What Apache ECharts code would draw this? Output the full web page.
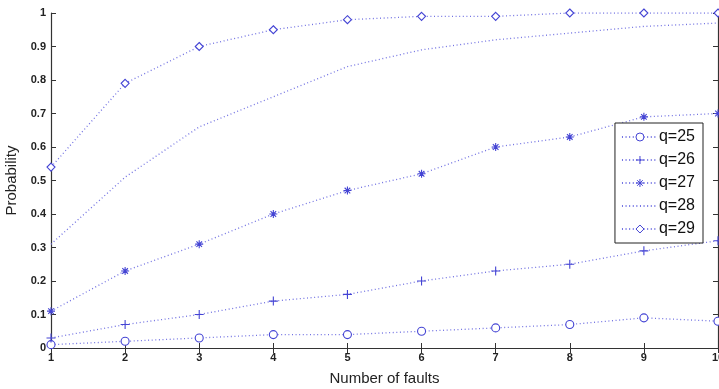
<!DOCTYPE html>
<html>
<head>
<meta charset="utf-8">
<script src="https://cdn.jsdelivr.net/npm/echarts@6/dist/echarts.min.js"></script>
<style>
  html, body { margin: 0; padding: 0; background: #fff; }
  #chart { width: 719px; height: 389px; }
</style>
</head>
<body>
<div id="chart"></div>
<script>
// x values (number of faults)
const faults = [1, 2, 3, 4, 5, 6, 7, 8, 9, 10];
// probabilities
const q25 = [0.01, 0.02, 0.03, 0.04, 0.04, 0.05, 0.06, 0.07, 0.09, 0.08];
const q26 = [0.03, 0.07, 0.10, 0.14, 0.16, 0.20, 0.23, 0.25, 0.29, 0.32];
const q27 = [0.11, 0.23, 0.31, 0.40, 0.47, 0.52, 0.60, 0.63, 0.69, 0.70];
const q28 = [0.31, 0.51, 0.66, 0.75, 0.84, 0.89, 0.92, 0.94, 0.96, 0.97];
const q29 = [0.54, 0.79, 0.90, 0.95, 0.98, 0.99, 0.99, 1.00, 1.00, 1.00];
const seriesNames = ['q=25', 'q=26', 'q=27', 'q=28', 'q=29'];

const markColor = '#4444d4';
const lineColor = '#7272e2';
const tickFont = { fontFamily: 'Liberation Sans Narrow, Liberation Sans, Arial', fontWeight: 'bold', fontSize: 11, color: '#222' };

// marker shapes (matlab style)
const plusPath = 'path://M0,5L10,5M5,0L5,10';
const starPath = 'path://M0,5L10,5M5,0L5,10M1.5,1.5L8.5,8.5M8.5,1.5L1.5,8.5';

function pairs(ys) {
  return faults.map((x, i) => [x, ys[i]]);
}

// hollow = white fill with blue outline (circle, diamond)
function mkSeries(name, ys, symbol, size, hollow) {
  let hidden = symbol === 'none';
  return {
    name: name,
    type: 'line',
    data: pairs(ys),
    symbol: hidden ? 'circle' : symbol,
    symbolSize: size,
    showSymbol: !hidden,
    lineStyle: { color: lineColor, width: 1.3, type: [1, 2.6] },
    itemStyle: {
      color: hollow ? '#fff' : markColor,
      borderColor: markColor,
      borderWidth: 1.1,
      opacity: hidden ? 0 : 1
    },
    emphasis: { disabled: true },
    animation: false
  };
}

let chart = echarts.init(document.getElementById('chart'));
let option = {
  backgroundColor: '#fff',
  animation: false,
  grid: { left: 51, right: 1, top: 13, bottom: 41, outerBoundsMode: 'none', containLabel: false },
  legend: {
    orient: 'vertical',
    right: 16,
    top: 123,
    data: seriesNames.map(n => n === 'q=28' ? { name: n, itemStyle: { opacity: 0 } } : n),
    itemWidth: 36,
    itemHeight: 10,
    itemGap: 7,
    itemStyle: { borderWidth: 1 },
    padding: [6, 8, 6, 6],
    backgroundColor: '#fff',
    borderColor: '#222',
    borderWidth: 1,
    textStyle: { fontFamily: 'Liberation Sans, Arial', fontSize: 16, color: '#111', padding: [0, 0, 0, -4] }
  },
  xAxis: [
    {
      type: 'value', min: 1, max: 10, interval: 1,
      name: 'Number of faults', nameLocation: 'middle', nameGap: 23,
      nameTextStyle: { fontFamily: 'Liberation Sans, Arial', fontSize: 15, color: '#222' },
      axisLine: { lineStyle: { color: '#333', width: 1.2 } },
      axisTick: { inside: true, length: 5, lineStyle: { color: '#333' } },
      axisLabel: Object.assign({ margin: 4 }, tickFont),
      splitLine: { show: false }
    },
    {
      type: 'value', min: 1, max: 10, interval: 1, position: 'top',
      axisLine: { lineStyle: { color: '#333', width: 1.2 } },
      axisTick: { inside: true, length: 5, lineStyle: { color: '#333' } },
      axisLabel: { show: false },
      splitLine: { show: false }
    }
  ],
  yAxis: [
    {
      type: 'value', min: 0, max: 1, interval: 0.1,
      name: 'Probability', nameLocation: 'middle', nameGap: 32,
      nameTextStyle: { fontFamily: 'Liberation Sans, Arial', fontSize: 15, color: '#222' },
      axisLine: { show: true, lineStyle: { color: '#333', width: 1.2 } },
      axisTick: { show: true, inside: true, length: 5, lineStyle: { color: '#333' } },
      axisLabel: Object.assign({ margin: 5, formatter: v => String(Math.round(v * 10) / 10) }, tickFont),
      splitLine: { show: false }
    },
    {
      type: 'value', min: 0, max: 1, interval: 0.1, position: 'right',
      axisLine: { show: true, lineStyle: { color: '#333', width: 1.2 } },
      axisTick: { show: true, inside: true, length: 5, lineStyle: { color: '#333' } },
      axisLabel: { show: false },
      splitLine: { show: false }
    }
  ],
  series: [
    mkSeries('q=25', q25, 'circle', 8, true),
    mkSeries('q=26', q26, plusPath, 9, false),
    mkSeries('q=27', q27, starPath, 8, false),
    mkSeries('q=28', q28, 'none', 0, false),
    mkSeries('q=29', q29, 'diamond', 8, true)
  ]
};
chart.setOption(option);
</script>
</body>
</html>
